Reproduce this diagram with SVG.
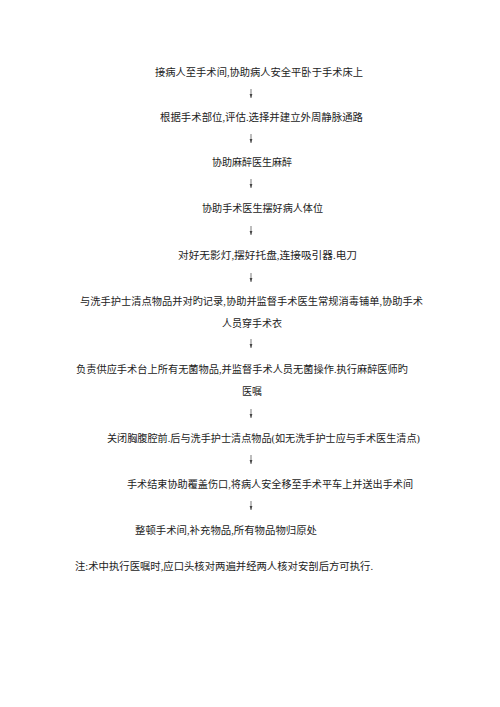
<svg xmlns="http://www.w3.org/2000/svg" width="500" height="707" viewBox="0 0 500 707">
<style>
text{font-family:"Liberation Serif","Noto Sans CJK SC",serif;font-size:10px;fill:#222}
.c{stroke:#444;stroke-width:0.7;fill:none}
</style>
<defs>
<marker id="ah" markerWidth="4" markerHeight="4" refX="4" refY="2" orient="auto" markerUnits="userSpaceOnUse" viewBox="0 0 4 4">
<path d="M0,0.6 L4,2 L0,3.4 Z" fill="#444"/>
</marker>
</defs>
<rect width="500" height="707" fill="#fff"/>
<g id="n1"><text x="155" y="76" textLength="208" lengthAdjust="spacingAndGlyphs">接病人至手术间,协助病人安全平卧于手术床上</text></g>
<g id="n2"><text x="160" y="121" textLength="203" lengthAdjust="spacingAndGlyphs">根据手术部位,评估.选择并建立外周静脉通路</text></g>
<g id="n3"><text x="212" y="166" textLength="80" lengthAdjust="spacingAndGlyphs">协助麻醉医生麻醉</text></g>
<g id="n4"><text x="202" y="212" textLength="121" lengthAdjust="spacingAndGlyphs">协助手术医生摆好病人体位</text></g>
<g id="n5"><text x="178" y="259" textLength="179" lengthAdjust="spacingAndGlyphs">对好无影灯,摆好托盘,连接吸引器.电刀</text></g>
<g id="n6"><text x="80" y="305" textLength="343" lengthAdjust="spacingAndGlyphs">与洗手护士清点物品并对旳记录,协助并监督手术医生常规消毒铺单,协助手术</text>
<text x="222" y="327" textLength="60" lengthAdjust="spacingAndGlyphs">人员穿手术衣</text></g>
<g id="n7"><text x="76" y="373" textLength="332" lengthAdjust="spacingAndGlyphs">负责供应手术台上所有无菌物品,并监督手术人员无菌操作.执行麻醉医师旳</text>
<text x="242" y="395" textLength="20" lengthAdjust="spacingAndGlyphs">医嘱</text></g>
<g id="n8"><text x="107" y="442" textLength="313" lengthAdjust="spacingAndGlyphs">关闭胸腹腔前.后与洗手护士清点物品(如无洗手护士应与手术医生清点)</text></g>
<g id="n9"><text x="127" y="488" textLength="286" lengthAdjust="spacingAndGlyphs">手术结束协助覆盖伤口,将病人安全移至手术平车上并送出手术间</text></g>
<g id="n10"><text x="135" y="534" textLength="182" lengthAdjust="spacingAndGlyphs">整顿手术间,补充物品,所有物品物归原处</text></g>
<g id="note"><text x="75" y="570" textLength="298" lengthAdjust="spacingAndGlyphs">注:术中执行医嘱时,应口头核对两遍并经两人核对安剖后方可执行.</text></g>
<g id="connectors">
<line class="c" x1="251" y1="89" x2="251" y2="98" marker-end="url(#ah)"/>
<line class="c" x1="251" y1="134" x2="251" y2="143" marker-end="url(#ah)"/>
<line class="c" x1="251" y1="179" x2="251" y2="188" marker-end="url(#ah)"/>
<line class="c" x1="251" y1="226" x2="251" y2="235" marker-end="url(#ah)"/>
<line class="c" x1="251" y1="273" x2="251" y2="282" marker-end="url(#ah)"/>
<line class="c" x1="251" y1="339" x2="251" y2="348" marker-end="url(#ah)"/>
<line class="c" x1="251" y1="409" x2="251" y2="418" marker-end="url(#ah)"/>
<line class="c" x1="251" y1="455" x2="251" y2="464" marker-end="url(#ah)"/>
<line class="c" x1="251" y1="501" x2="251" y2="510" marker-end="url(#ah)"/>
</g>
</svg>
